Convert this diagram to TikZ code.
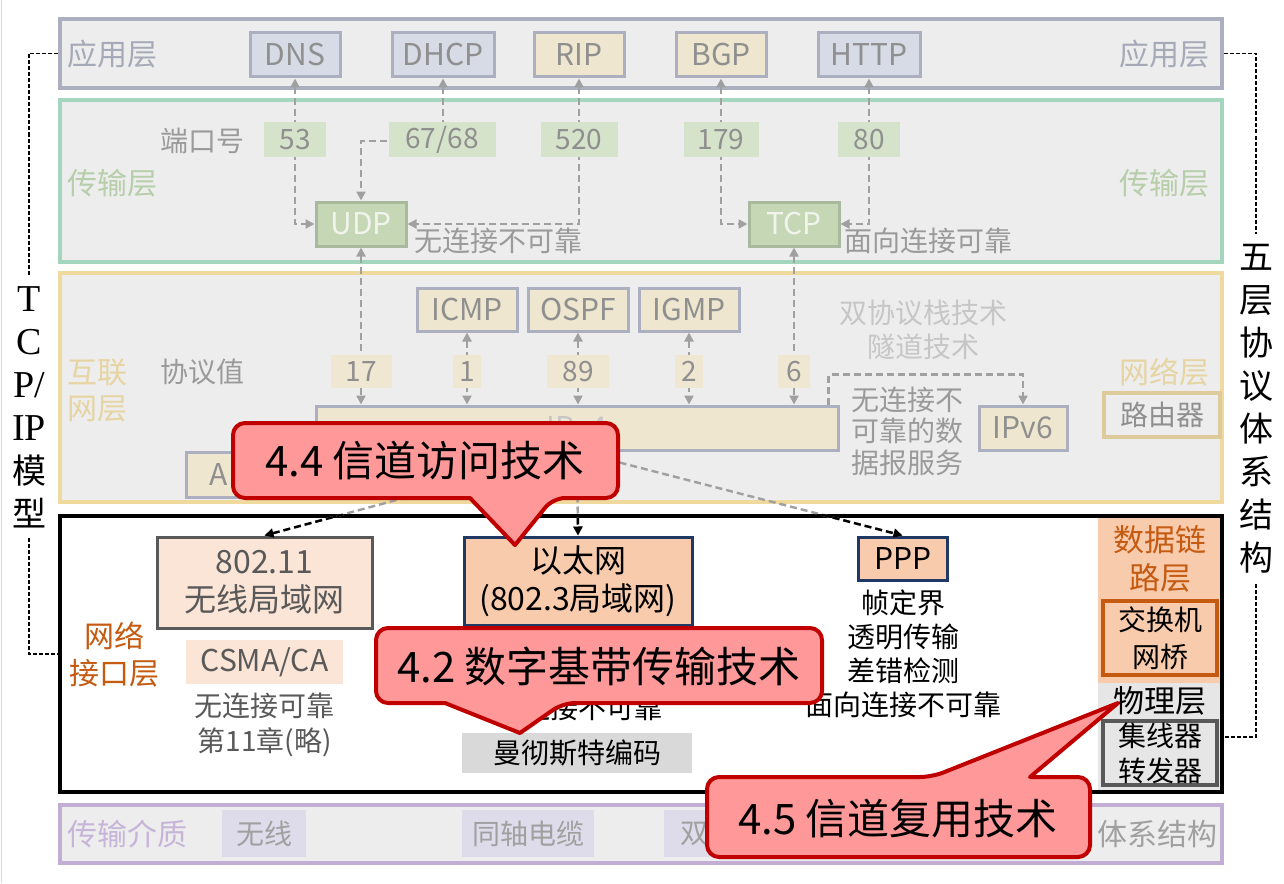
\documentclass[tikz,border=0pt]{standalone}
\usepackage{fontspec}
\setmainfont{Noto Sans CJK SC}
\newfontfamily\latinserif{Liberation Serif}
\usepackage{tikz}
\usetikzlibrary{positioning,calc}
\usetikzlibrary{arrows.meta}

\definecolor{bandgray}{HTML}{EDEDED}
\definecolor{appline}{HTML}{ABAFBF}
\definecolor{transline}{HTML}{A3D6BC}
\definecolor{inetline}{HTML}{EFD99C}
\definecolor{medialine}{HTML}{C2AED5}
\definecolor{appblue}{HTML}{D7DBE6}
\definecolor{tanbox}{HTML}{EEE6CF}
\definecolor{portgreen}{HTML}{D5E3CB}
\definecolor{protan}{HTML}{EFE7D1}
\definecolor{udpfill}{HTML}{C5D7B5}
\definecolor{udpline}{HTML}{A9B99E}
\definecolor{udptext}{HTML}{F0F4EC}
\definecolor{txtgray}{HTML}{8F8F8F}
\definecolor{notegray}{HTML}{9A9A9A}
\definecolor{paletext}{HTML}{C6C6C6}
\definecolor{linegray}{HTML}{A0A0A0}
\definecolor{applbl}{HTML}{A6AAB8}
\definecolor{translbl}{HTML}{B7CEAA}
\definecolor{inetlbl}{HTML}{E6D4A2}
\definecolor{routerline}{HTML}{DDCB9B}
\definecolor{medialbl}{HTML}{C7B5D9}
\definecolor{mediafill}{HTML}{DEDCEA}
\definecolor{mediatxt}{HTML}{A0A0A0}
\definecolor{rust}{HTML}{C55A11}
\definecolor{peach}{HTML}{F8CBAD}
\definecolor{lightpeach}{HTML}{FBE5D6}
\definecolor{navy}{HTML}{203864}
\definecolor{darkgray}{HTML}{595959}
\definecolor{midgray}{HTML}{D9D9D9}
\definecolor{phygray}{HTML}{E7E6E6}
\definecolor{calloutfill}{HTML}{FF9999}
\definecolor{calloutline}{HTML}{C00000}

\tikzstyle{band} = [rectangle, line width=2pt, fill=bandgray, minimum width=581pt, inner sep=0pt]
\tikzstyle{lbl} = [inner sep=0pt, font=\fontsize{15pt}{18pt}\selectfont]
\tikzstyle{proto} = [rectangle, draw=appline, line width=1.5pt, minimum width=45pt, minimum height=22pt, inner sep=0pt, text=txtgray, font=\fontsize{15pt}{18pt}\selectfont]
\tikzstyle{trbox} = [rectangle, draw=udpline, fill=udpfill, line width=1.5pt, minimum width=45pt, minimum height=22pt, inner sep=0pt, text=udptext, font=\fontsize{15pt}{18pt}\selectfont]
\tikzstyle{num} = [rectangle, minimum height=17.5pt, inner sep=0pt, text=txtgray, font=\fontsize{14pt}{16pt}\selectfont]
\tikzstyle{note} = [inner sep=0pt, text=notegray, align=center, font=\fontsize{14pt}{17pt}\selectfont]
\tikzstyle{portlink} = [draw=linegray, line width=1.2pt, dash pattern=on 3.5pt off 2pt, >={Triangle[length=4.5pt,width=4.5pt]}, <->]
\tikzstyle{feed} = [draw=black, line width=1.2pt, dash pattern=on 3.5pt off 2pt, >={Triangle[length=4.5pt,width=4.5pt]}, ->]
\tikzstyle{iface} = [rectangle, line width=1.5pt, align=center, inner sep=0pt, font=\fontsize{16pt}{19pt}\selectfont]
\tikzstyle{medbox} = [rectangle, fill=mediafill, minimum height=23.5pt, inner sep=0pt, text=mediatxt, font=\fontsize{14pt}{16pt}\selectfont]
\tikzstyle{bracket} = [draw=black, line width=0.7pt, dash pattern=on 2pt off 1pt]
\tikzstyle{vtext} = [align=center, inner xsep=0pt, inner ysep=5pt, font=\fontsize{17pt}{21.5pt}\selectfont]
\tikzstyle{callout} = [fill=calloutfill, draw=calloutline, line width=2pt, line join=round]
\tikzstyle{callouttext} = [inner sep=0pt, font=\fontsize{21pt}{25pt}\selectfont]

\begin{document}
\begin{tikzpicture}[x=0.5pt, y=-0.5pt]
\useasboundingbox (0,0) rectangle (1284,883);
\draw[line width=0.5pt, draw=midgray] (1,0) -- (1,883);

% layers
\node[band, draw=appline, minimum height=34.5pt] (app) at (641,53.5) {};
\node[band, draw=transline, minimum height=81pt] (trans) at (641,181) {};
\node[band, draw=inetline, minimum height=114.5pt] (inet) at (641,387.5) {};
\node[band, draw=black, fill=white, minimum height=138pt] (nif) at (641,654) {};
\node[band, draw=medialine, minimum height=29pt] (media) at (641,833.5) {};

\node[lbl, text=applbl, anchor=west] (appL) at (67,54) {应用层};
\node[lbl, text=applbl, anchor=east] (appR) at (1210,54) {应用层};
\node[lbl, text=translbl, anchor=west] (transL) at (67,183) {传输层};
\node[lbl, text=translbl, anchor=east] (transR) at (1210,183) {传输层};
\node[lbl, text=inetlbl, anchor=west, align=left] (inetL) at (67,390) {互联\\网层};
\node[lbl, text=inetlbl, anchor=east] (inetR) at (1210,372) {网络层};
\node[lbl, text=rust, align=center, font=\fontsize{15pt}{18.5pt}\selectfont] (nifL) at (114,655) {网络\\接口层};
\node[lbl, text=medialbl, anchor=west] (mediaL) at (67,834) {传输介质};

% application and transport
\node[proto, fill=appblue] (dns) at (295,55) {DNS};
\node[proto, fill=appblue, minimum width=51pt] (dhcp) at (443,55) {DHCP};
\node[proto, fill=tanbox] (rip) at (579,55) {RIP};
\node[proto, fill=tanbox] (bgp) at (721,55) {BGP};
\node[proto, fill=appblue, minimum width=51pt] (http) at (869,55) {HTTP};
\node[trbox] (udp) at (361,224) {UDP};
\node[trbox] (tcp) at (794,224) {TCP};

% internet
\node[proto, fill=tanbox, minimum width=50pt, minimum height=21.5pt] (icmp) at (467,309.5) {ICMP};
\node[proto, fill=tanbox, minimum width=50pt, minimum height=21.5pt] (ospf) at (578,309.5) {OSPF};
\node[proto, fill=tanbox, minimum width=50pt, minimum height=21.5pt] (igmp) at (689,309.5) {IGMP};
\node[proto, fill=tanbox, minimum width=261pt, text=paletext] (ipv4) at (577,428) {IPv4};
\node[proto, fill=tanbox, minimum width=44pt] (ipv6) at (1023,428) {IPv6};
\node[proto, fill=tanbox, minimum width=52pt, minimum height=22.5pt] (arp) at (238,474.5) {ARP};
\node[proto, draw=routerline, line width=2pt, fill=bandgray, minimum width=58pt, font=\fontsize{14pt}{16pt}\selectfont] (router) at (1162,415) {路由器};

\draw[portlink] (dns.south) |- (udp.west);
\draw[portlink] (dhcp.south) -- ++(0,62.5) -| (udp.north);
\draw[portlink] (rip.south) |- (udp.east);
\draw[portlink] (bgp.south) |- (tcp.west);
\draw[portlink] (http.south) |- (tcp.east);
\draw[portlink] (udp.south) -- (udp.south |- ipv4.north);
\draw[portlink] (tcp.south) -- (tcp.south |- ipv4.north);
\foreach \p in {icmp,ospf,igmp}
  \draw[portlink] (\p.south) -- (\p.south |- ipv4.north);
\draw[portlink, ->] ([xshift=-5.5pt]ipv4.north east) -- ++(0,-30) -| (ipv6.north);

\node[num, fill=portgreen, minimum width=31pt] (p53) at (295,139.5) {53};
\node[num, fill=portgreen, minimum width=53.5pt] (p6768) at (442,139.5) {67/68};
\node[num, fill=portgreen, minimum width=38.5pt] (p520) at (579,139.5) {520};
\node[num, fill=portgreen, minimum width=37.5pt] (p179) at (721,139.5) {179};
\node[num, fill=portgreen, minimum width=31pt] (p80) at (869,139.5) {80};
\node[num, fill=protan, minimum width=30.5pt, minimum height=16.5pt] (v17) at (361,371.5) {17};
\node[num, fill=protan, minimum width=14pt, minimum height=16.5pt] (v1) at (467,371.5) {1};
\node[num, fill=protan, minimum width=31pt, minimum height=16.5pt] (v89) at (578,371.5) {89};
\node[num, fill=protan, minimum width=14pt, minimum height=16.5pt] (v2) at (689,371.5) {2};
\node[num, fill=protan, minimum width=16pt, minimum height=16.5pt] (v6) at (794,371.5) {6};

\node[note, anchor=east] (portL) at (245,141) {端口号};
\node[note, anchor=east] (protoL) at (245,372) {协议值};
\node[note, anchor=west] (udpnote) at (414,241) {无连接不可靠};
\node[note, anchor=west] (tcpnote) at (844,241) {面向连接可靠};
\node[note, text=paletext] (v6tech) at (923,330) {双协议栈技术\\隧道技术};
\node[note, align=left, anchor=west, font=\fontsize{14pt}{15.8pt}\selectfont] (ipnote) at (851,431) {无连接不\\可靠的数\\据报服务};

% network interface
\node[rectangle, fill=peach, minimum width=61pt, minimum height=82.5pt, inner sep=0pt] (dll) at (1159,600.5) {};
\node[rectangle, fill=phygray, minimum width=61pt, minimum height=53.5pt, inner sep=0pt] (phy) at (1159,736.5) {};
\node[lbl, text=rust, align=center, font=\fontsize{15.5pt}{19pt}\selectfont] (dllL) at (1160,559) {数据链\\路层};
\node[iface, draw=rust, line width=2pt, minimum width=57pt, minimum height=37pt, font=\fontsize{14pt}{18.5pt}\selectfont] (switch) at (1160,638) {交换机\\网桥};
\node[lbl, font=\fontsize{15.5pt}{18pt}\selectfont] (phyL) at (1160,701) {物理层};
\node[iface, draw=darkgray, line width=2pt, minimum width=57pt, minimum height=32pt, font=\fontsize{14pt}{17.5pt}\selectfont] (hub) at (1160,753) {集线器\\转发器};

\node[iface, draw=darkgray, fill=lightpeach, text=darkgray, minimum width=107.5pt, minimum height=45.5pt] (w80211) at (264.5,582.5) {802.11\\无线局域网};
\node[rectangle, fill=lightpeach, text=darkgray, minimum width=78.5pt, minimum height=22pt, inner sep=0pt, font=\fontsize{15pt}{18pt}\selectfont] (csmaca) at (264.5,662) {CSMA/CA};
\node[note, text=darkgray, font=\fontsize{14pt}{17.5pt}\selectfont] (wlannote) at (264.5,725) {无连接可靠\\第11章(略)};
\node[iface, draw=navy, fill=peach, minimum width=114pt, minimum height=44pt] (eth) at (578,581) {以太网\\(802.3局域网)};
\node[note, text=black] (ethnote) at (578,708) {无连接不可靠};
\node[rectangle, fill=midgray, minimum width=115pt, minimum height=20pt, inner sep=0pt, font=\fontsize{14pt}{16pt}\selectfont] (manch) at (577,753) {曼彻斯特编码};
\node[iface, draw=navy, fill=peach, minimum width=44.5pt, minimum height=21.5pt, font=\fontsize{15pt}{18pt}\selectfont] (ppp) at (902.5,558.5) {PPP};
\node[note, text=black] (pppnote) at (903,654) {帧定界\\透明传输\\差错检测\\面向连接不可靠};

\foreach \t in {w80211,eth,ppp}{
  \draw[feed, draw=linegray] (ipv4.south) -- (\t.north);
  \begin{scope}
    \clip (nif.north west) rectangle (nif.south east);
    \draw[feed] (ipv4.south) -- (\t.north);
  \end{scope}
}

% transmission media
\node[medbox, minimum width=42pt] (wireless) at (264,833.5) {无线};
\node[medbox, minimum width=66pt] (coax) at (528,833.5) {同轴电缆};
\node[medbox, minimum width=56pt, text width=40pt, align=left] (twisted) at (720,833.5) {双};
\node[lbl, text=mediatxt, anchor=east] (archL) at (1218,834) {体系结构};

% side titles
\node[vtext] (tcpip) at (29,407) {{\latinserif\fontsize{19pt}{21.5pt}\selectfont T}\\{\latinserif\fontsize{19pt}{21.5pt}\selectfont C}\\{\latinserif\fontsize{19pt}{21.5pt}\selectfont P/}\\{\latinserif\fontsize{19pt}{21.5pt}\selectfont IP}\\模\\型};
\node[vtext] (five) at (1256,409) {五\\层\\协\\议\\体\\系\\结\\构};
\draw[bracket] (app.west) -| (tcpip.north);
\draw[bracket] (tcpip.south) |- (nif.west);
\draw[bracket] (app.east) -| (five.north);
\draw[bracket] (five.south) |- ($(nif.east)+(0,83)$);

% callouts
\draw[callout] (425,423) [rounded corners=6pt] -| (618,498) -- (553,498) [sharp corners] -- (515,545) -- (470,498) [rounded corners=6pt] -| (233,423) -- cycle;
\node[callouttext] (c44) at (425,461) {4.4 信道访问技术};
\draw[callout] (599,628) [rounded corners=6pt] -| (822,703) -- (563,703) [sharp corners] -- (520,733) -- (445,703) [rounded corners=6pt] -| (376,628) -- cycle;
\node[callouttext] (c42) at (599,666) {4.2 数字基带传输技术};
\draw[callout] (898,857) [rounded corners=6pt] -| (707,777) -- (932,777) [sharp corners] -- (1118,703) -- (1030,777) [rounded corners=6pt] -| (1090,857) -- cycle;
\node[callouttext] (c45) at (898,819) {4.5 信道复用技术};
\end{tikzpicture}
\end{document}
